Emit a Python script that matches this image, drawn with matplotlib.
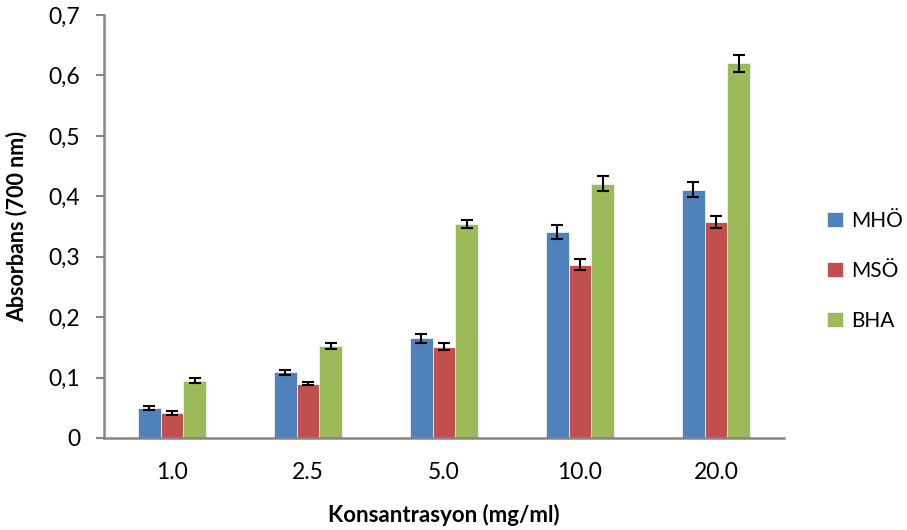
import matplotlib
matplotlib.use("Agg")
import matplotlib.pyplot as plt
import numpy as np

plt.rcParams['font.family'] = ['Lato', 'DejaVu Sans']

categories = ["1.0", "2.5", "5.0", "10.0", "20.0"]
series_names = ["MHÖ", "MSÖ", "BHA"]
mho = [0.050, 0.109, 0.165, 0.341, 0.411]
mso = [0.041, 0.090, 0.151, 0.287, 0.358]
bha = [0.095, 0.152, 0.354, 0.421, 0.620]
mho_err = [0.003, 0.004, 0.007, 0.011, 0.012]
mso_err = [0.003, 0.003, 0.006, 0.009, 0.010]
bha_err = [0.004, 0.005, 0.007, 0.012, 0.014]
y_ticks = [0, 0.1, 0.2, 0.3, 0.4, 0.5, 0.6, 0.7]
y_tick_labels = ["0", "0,1", "0,2", "0,3", "0,4", "0,5", "0,6", "0,7"]
x_label = "Konsantrasyon (mg/ml)"
y_label = "Absorbans (700 nm)"

colors = ["#4F81BD", "#C0504D", "#9BBB59"]

fig = plt.figure(figsize=(9.07, 5.30), dpi=100)
ax = fig.add_axes([104/907, 92/530, 680/907, 423/530])

x = np.arange(len(categories))
w = 1/6
data = [mho, mso, bha]
errs = [mho_err, mso_err, bha_err]
handles = []
for i, (vals, e, c, n) in enumerate(zip(data, errs, colors, series_names)):
    b = ax.bar(x + (i - 1) * w, vals, width=w, color=c, edgecolor="#F2F2F2",
               linewidth=0.6, label=n, zorder=2)
    ax.errorbar(x + (i - 1) * w, vals, yerr=e, fmt="none", ecolor="black",
                elinewidth=1.5, capsize=4.5, capthick=1.5, zorder=3)
    handles.append(b)

ax.set_xlim(-0.5, len(categories) - 0.5)
ax.set_ylim(0, 0.7)
ax.set_yticks(y_ticks)
ax.set_yticklabels(y_tick_labels, fontsize=16.5)
ax.set_xticks(x)
ax.set_xticklabels(categories, fontsize=16.5)
ax.tick_params(axis='x', length=0, pad=17)
ax.tick_params(axis='y', length=6, width=1.5, color="#868686", pad=11, direction='out')

for s in ["top", "right"]:
    ax.spines[s].set_visible(False)
for s in ["left", "bottom"]:
    ax.spines[s].set_color("#868686")
    ax.spines[s].set_linewidth(1.8)

ax.set_xlabel(x_label, fontsize=16, fontweight="bold", va="center")
ax.xaxis.set_label_coords(0.5, (438 - 515) / 423)
ax.set_ylabel(y_label, fontsize=15.5, fontweight="bold", va="center")
ax.yaxis.set_label_coords((17 - 104) / 680, 0.5)

fig.legend(handles=handles, labels=series_names, loc="center left",
           bbox_to_anchor=(827/907, 0.489), frameon=False, fontsize=15,
           handlelength=0.75, handleheight=0.75, handletextpad=0.4,
           labelspacing=1.45, borderpad=0, borderaxespad=0)

fig.savefig("out.png", dpi=100)
